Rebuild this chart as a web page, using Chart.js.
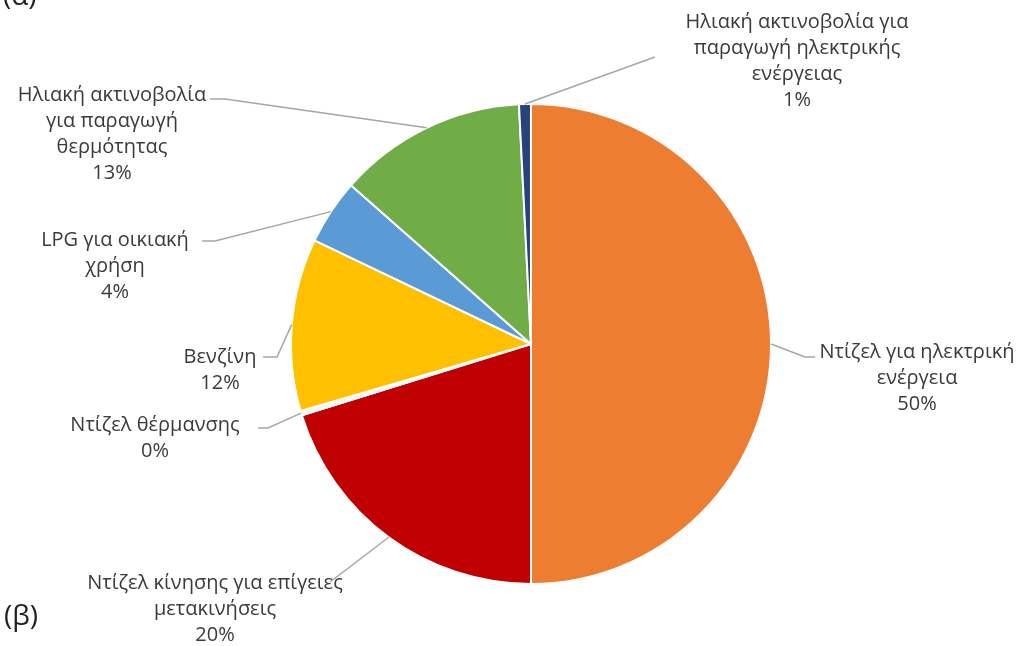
<!DOCTYPE html>
<html>
<head>
<meta charset="utf-8">
<script src="https://cdn.jsdelivr.net/npm/chart.js@4"></script>
<style>
  body { margin: 0; background: #fff; }
  canvas { display: block; }
</style>
</head>
<body>
<canvas id="pieChart" width="1021" height="646"></canvas>
<script>
// clockwise from the top
const categories = [
    ['Ντίζελ για ηλεκτρική', 'ενέργεια'],
    ['Ντίζελ κίνησης για επίγειες', 'μετακινήσεις'],
    ['Ντίζελ θέρμανσης'],
    ['Βενζίνη'],
    ['LPG για οικιακή', 'χρήση'],
    ['Ηλιακή ακτινοβολία', 'για παραγωγή', 'θερμότητας'],
    ['Ηλιακή ακτινοβολία για', 'παραγωγή ηλεκτρικής', 'ενέργειας']
];
const shares = [50, 20.2, 0.3, 11.6, 4.4, 12.7, 0.8];
const percentLabels = ['50%', '20%', '0%', '12%', '4%', '13%', '1%'];
const sliceColors = ['#ED7D31', '#C00000', '#f4f4f4', '#FFC000', '#5B9BD5', '#70AD47', '#264478'];

// where each label sits and how its leader line bends
const labelLayout = [
    { cx: 917, y: 352, path: [[805, 357], [815, 357]] },
    { cx: 215, y: 583, path: [[330, 582]] },
    { cx: 155, y: 425, path: [[268, 428], [258, 428]] },
    { cx: 220, y: 357, path: [[277, 357], [263, 357]] },
    { cx: 115, y: 240, path: [[215, 241], [202, 241]] },
    { cx: 112, y: 95, path: [[225, 99], [210, 99]] },
    { cx: 797, y: 22, path: [[655, 57]] }
];

const FONT = '"Open Sans", sans-serif';

const outsideLabels = {
    id: 'outsideLabels',
    afterDraw(chart) {
        const ctx = chart.ctx;
        const arcs = chart.getDatasetMeta(0).data;
        ctx.save();
        arcs.forEach((arc, i) => {
            const p = arc.getProps(['x', 'y', 'startAngle', 'endAngle', 'outerRadius'], true);
            const mid = (p.startAngle + p.endAngle) / 2;
            const ex = p.x + Math.cos(mid) * p.outerRadius;
            const ey = p.y + Math.sin(mid) * p.outerRadius;
            const lay = labelLayout[i];
            ctx.strokeStyle = '#a6a6a6';
            ctx.lineWidth = 1.5;
            ctx.beginPath();
            ctx.moveTo(ex, ey);
            lay.path.forEach(pt => ctx.lineTo(pt[0], pt[1]));
            ctx.stroke();

            ctx.fillStyle = '#3a3a3a';
            ctx.font = '20px ' + FONT;
            ctx.textAlign = 'center';
            ctx.textBaseline = 'middle';
            const lines = categories[i].concat([percentLabels[i]]);
            lines.forEach((t, k) => ctx.fillText(t, lay.cx, lay.y + k * 26));
        });

        ctx.font = '28px ' + FONT;
        ctx.fillStyle = '#222';
        ctx.textAlign = 'left';
        ctx.textBaseline = 'alphabetic';
        ctx.fillText('(α)', 3, 5);
        ctx.fillText('(β)', 4, 625);
        ctx.restore();
    }
};

const ctx1 = document.getElementById('pieChart').getContext('2d');
const pieChart = new Chart(ctx1, {
    type: 'pie',
    data: {
        labels: categories.map(c => c.join(' ')),
        datasets: [{
            data: shares,
            backgroundColor: sliceColors,
            borderColor: '#ffffff',
            borderWidth: 2
        }]
    },
    options: {
        responsive: false,
        animation: false,
        layout: {
            padding: { top: 103, bottom: 61, left: 290, right: 249 }
        },
        plugins: {
            legend: { display: false },
            tooltip: { enabled: false }
        }
    },
    plugins: [outsideLabels]
});
</script>
</body>
</html>
